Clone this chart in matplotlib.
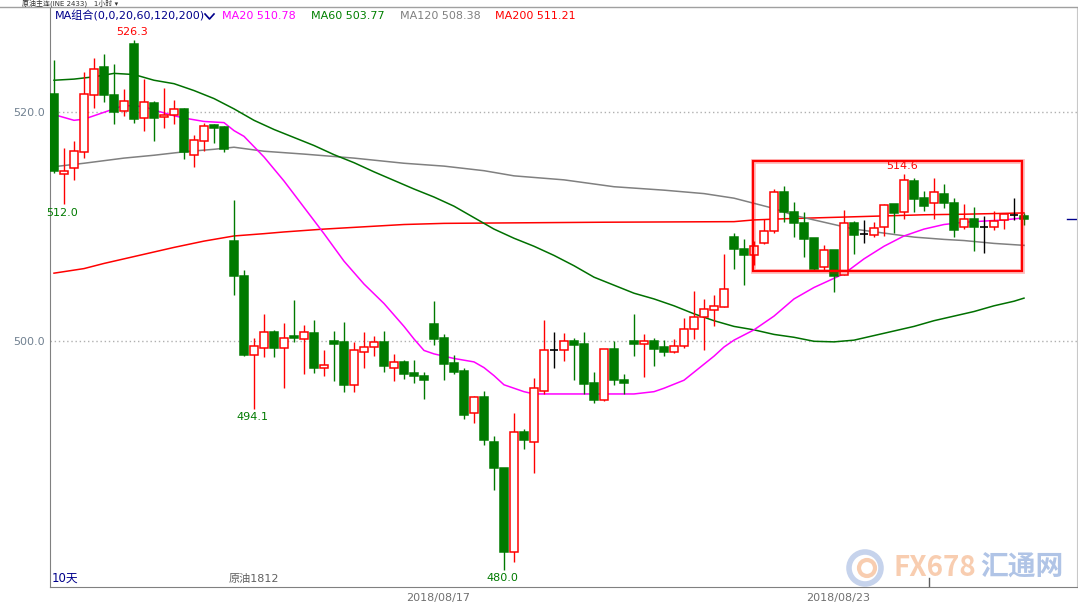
import numpy as np
import matplotlib; matplotlib.use("Agg")
import matplotlib.pyplot as plt
from matplotlib.patches import Rectangle, Ellipse
from matplotlib.lines import Line2D

plt.rcParams['font.family'] = ['DejaVu Sans', 'Noto Sans CJK SC']

# ---- hourly candles -------------------------------------------------------
opens  = [521.6,514.6,515.1,516.5,521.5,524.0,521.5,520.1,526.0,519.5,
          520.8,519.6,519.8,520.3,516.3,517.5,518.9,518.7,508.8,505.7,
          498.8,499.4,500.8,499.4,500.5,500.2,500.7,497.7,500.0,499.9,
          496.2,499.1,499.5,499.9,497.7,498.2,497.2,497.0,501.5,500.3,
          498.1,497.4,493.7,495.1,491.2,488.9,481.6,492.1,491.2,495.7,
          499.2,499.2,500.0,499.8,496.4,494.9,499.3,496.6,500.0,499.8,
          500.0,499.5,499.1,499.6,501.1,502.1,502.7,503.0,509.1,508.1,
          507.5,508.6,509.6,513.0,511.3,510.3,509.0,506.5,508.0,505.8,
          510.3,509.4,509.3,510.0,512.0,511.3,514.0,512.5,512.1,512.9,
          512.1,510.0,510.7,510.0,510.0,510.6,511.0,510.9]
highs  = [524.6,516.9,517.5,523.5,524.7,525.1,524.2,522.0,526.3,522.9,
          521.0,522.1,521.1,520.4,518.0,519.1,519.0,518.8,512.3,506.2,
          500.3,502.4,501.0,501.6,503.6,501.4,501.9,499.2,500.9,501.7,
          499.9,500.8,500.5,500.9,498.9,498.4,498.4,497.3,503.5,500.6,
          498.8,497.7,495.2,495.7,491.7,488.9,493.7,492.3,496.8,501.9,
          500.8,500.7,500.3,500.8,497.3,499.3,500.0,497.1,502.4,500.6,
          500.3,500.1,500.2,502.0,504.4,503.7,504.0,507.6,509.5,508.9,
          508.8,510.7,513.3,513.6,512.2,511.3,509.0,508.4,508.0,511.5,
          510.5,510.6,510.4,512.0,512.0,514.6,514.3,513.1,514.3,513.7,
          512.5,512.0,511.7,510.9,511.4,511.2,512.5,511.2]
lows   = [514.7,512.0,514.1,516.0,520.4,520.9,519.0,519.7,519.1,518.4,
          517.5,518.6,519.0,515.9,515.2,516.6,517.3,516.5,504.0,498.7,
          494.1,498.6,498.6,495.9,499.9,497.1,497.2,497.0,496.5,495.6,
          495.6,497.7,498.7,497.3,496.5,496.7,496.4,495.0,499.7,496.6,
          497.1,493.2,492.9,490.9,487.0,480.0,480.7,490.6,488.5,495.4,
          497.7,498.3,496.6,495.4,494.6,494.8,496.2,495.4,498.7,496.9,
          497.8,498.7,499.0,499.4,500.2,499.2,501.3,503.0,506.3,504.9,
          506.7,508.5,509.5,510.4,509.1,507.4,506.2,506.2,504.3,505.8,
          507.6,508.6,509.1,509.2,509.5,510.7,511.3,511.4,510.7,511.6,
          509.1,509.8,507.9,507.7,509.7,509.8,510.6,510.2]
closes = [514.9,514.9,516.6,521.6,523.8,521.5,520.0,521.0,519.4,520.9,
          519.5,519.8,520.3,516.5,517.6,518.8,518.6,516.8,505.7,498.8,
          499.6,500.8,499.4,500.3,500.3,500.8,497.7,497.9,499.8,496.2,
          499.2,499.5,499.9,497.8,498.2,497.1,497.0,496.6,500.2,498.0,
          497.3,493.6,495.1,491.4,488.9,481.6,492.1,491.4,495.9,499.2,
          499.2,500.0,499.7,496.3,494.9,499.3,496.6,496.4,499.8,500.0,
          499.3,499.1,499.6,501.1,502.1,502.8,503.1,504.6,508.1,507.5,
          508.3,509.6,513.0,511.3,510.3,508.9,506.3,508.0,505.7,510.3,
          509.3,509.4,509.9,511.9,511.2,514.1,512.4,511.8,513.0,512.1,
          509.7,510.7,510.0,510.0,510.5,511.1,511.0,510.7]

# ---- moving averages, sampled along the chart (bar index, price) -----------
ma20_idx = [0,2,3,5,7,9,10,12,13,15,17,18,19,20,21,23,25,27,29,31,33,35,36,37,38,
            40,42,43,44,45,47,48,53,58,60,61,63,64,65,66,67,68,70,72,74,76,78,79,
            81,83,85,87,89,91,93,95,97]
ma20_val = [519.8,519.3,519.4,520.0,520.6,520.5,520.2,519.7,519.5,519.2,519.1,518.4,
            517.9,517.0,516.1,514.0,511.7,509.4,507.0,505.0,503.3,501.3,500.2,499.2,
            498.9,498.5,498.2,497.7,497.0,496.2,495.6,495.4,495.4,495.4,495.6,495.9,
            496.6,497.3,498.0,498.7,499.5,500.1,501.0,502.2,503.7,504.7,505.5,505.9,
            507.2,508.3,509.2,509.8,510.2,510.4,510.5,510.6,510.78]
ma60_idx = [0,2,4,6,8,10,12,14,16,18,20,22,24,26,28,30,32,34,36,38,40,42,44,46,48,
            50,52,54,56,58,60,62,64,66,68,70,72,74,76,78,80,82,84,86,88,90,92,94,96,97]
ma60_val = [522.8,522.9,523.1,523.4,523.3,522.8,522.5,521.9,521.2,520.3,519.3,518.5,
            517.8,517.1,516.3,515.6,514.8,514.05,513.3,512.6,511.8,510.8,509.8,509.0,
            508.3,507.5,506.6,505.6,504.9,504.2,503.7,503.1,502.4,501.8,501.3,501.0,
            500.6,500.35,500.0,499.95,500.1,500.5,500.9,501.3,501.8,502.2,502.6,503.1,
            503.5,503.77]
ma120_idx = [0,3,7,10,13,16,18,21,25,30,35,39,43,46,51,56,61,65,68,70,72,74,77,80,
             83,86,89,91,94,97]
ma120_val = [515.25,515.55,516.0,516.25,516.55,516.77,516.95,516.6,516.35,516.0,515.55,
             515.3,514.9,514.45,514.1,513.5,513.2,512.9,512.5,512.05,511.6,511.0,510.4,
             509.8,509.45,509.1,508.9,508.8,508.55,508.38]
ma200_idx = [0,3,5,9,12,15,18,21,23,27,31,35,39,55,68,70,73,77,83,87,91,97]
ma200_val = [505.95,506.35,506.8,507.6,508.2,508.75,509.2,509.4,509.55,509.8,510.0,
             510.2,510.3,510.4,510.45,510.6,510.7,510.8,510.95,511.05,511.1,511.21]

W, H = 1078, 603
RED, GREEN, BLUE = "#ff0000", "#007a00", "#00008b"

fig = plt.figure(figsize=(W/100, H/100), dpi=100)
ax = fig.add_axes([50/W, (H-587)/H, 1027/W, 579/H])
ax.set_xlim(-0.4, 102.3)
ax.set_ylim(478.54, 529.11)

ax.spines["top"].set_visible(False)
for s in ("left", "bottom"): ax.spines[s].set_color("#808080")
ax.spines["right"].set_color("#c8c8c8")

for lvl in (500, 520):
    ax.axhline(lvl, color="#b0b0b0", lw=1, ls=(0, (1, 2)), zorder=0)
ax.set_yticks([500, 520], ["500.0", "520.0"])
ax.tick_params(axis="y", length=0, labelsize=8, labelcolor="#708090", pad=4)
ax.set_xticks([38.4, 78.4], ["2018/08/17", "2018/08/23"])
ax.tick_params(axis="x", length=0, labelsize=8, labelcolor="#707070", pad=4)
ax.axvline(87.5, ymin=0, ymax=0.016, color="#606060", lw=1)

# moving averages
ax.plot(ma200_idx, ma200_val, color=RED, lw=1.1, zorder=1)
ax.plot(ma120_idx, ma120_val, color="#808080", lw=1.1, zorder=1)
ax.plot(ma60_idx, ma60_val, color="#007000", lw=1.1, zorder=1)
ax.plot(ma20_idx, ma20_val, color="#ff00ff", lw=1.1, zorder=1)

# candles
bw = 0.8
for i, (o, h, l, c) in enumerate(zip(opens, highs, lows, closes)):
    if c > o:
        ax.vlines(i, l, h, color=RED, lw=1, zorder=2)
        ax.add_patch(Rectangle((i-bw/2, o), bw, c-o, facecolor="white",
                               edgecolor=RED, lw=1.1, zorder=3))
    elif c < o:
        ax.vlines(i, l, h, color=GREEN, lw=1, zorder=2)
        ax.add_patch(Rectangle((i-bw/2, c), bw, o-c, facecolor=GREEN,
                               edgecolor=GREEN, lw=1.1, zorder=3))
    else:
        ax.vlines(i, l, h, color="black", lw=1, zorder=2)
        ax.hlines(o, i-bw/2, i+bw/2, color="black", lw=1.2, zorder=3)

# high / low markers
for i, lab, col, dy in [(8, highs[8], RED, 8), (85, highs[85], RED, 8),
                        (1, lows[1], GREEN, -9), (20, lows[20], GREEN, -8),
                        (45, lows[45], GREEN, -8)]:
    ax.annotate(f"{lab:.1f}", (i, lab), xytext=(-2, dy), textcoords="offset pixels",
                ha="center", va="center", fontsize=8, color=col, zorder=5)

# highlighted consolidation box
bx0, bx1, by0, by1 = 69.93, 96.8, 506.14, 515.75
ax.add_patch(Rectangle((bx0, by0), bx1-bx0, by1-by0, fill=False,
                       edgecolor=RED, lw=3.5, alpha=0.25, zorder=6))
ax.add_patch(Rectangle((bx0, by0), bx1-bx0, by1-by0, fill=False,
                       edgecolor=RED, lw=1.6, zorder=6))

# last price marker on the right edge
ax.plot([0.99, 1.0], [closes[-1]]*2, color=BLUE, lw=1,
        transform=ax.get_yaxis_transform(), clip_on=False)

# ---- header and captions -------------------------------------------------
fy = lambda py: 1 - py/H
fig.add_artist(Line2D([0, 1], [fy(7), fy(7)], color="#a0a0a0", lw=1))
fig.text(22/W, fy(3.5), "原油主连(INE 2433)   1小时 ▾", fontsize=5, color="#333333",
         va="center", ha="left")
fig.text(55/W, fy(16), "MA组合(0,0,20,60,120,200)", fontsize=8, color=BLUE, va="center")
fig.add_artist(Line2D([205/W, 209.5/W, 214/W], [fy(14), fy(19), fy(14)], color=BLUE, lw=1.2))
for x0, txt, col in [(222, "MA20 510.78", "#ff00ff"), (311, "MA60 503.77", "#008000"),
                     (400, "MA120 508.38", "#808080"), (495, "MA200 511.21", RED)]:
    fig.text(x0/W, fy(16), txt, fontsize=8, color=col, va="center")

fig.text(52/W, fy(578), "10天", fontsize=8.5, color=BLUE, va="center")
fig.text(229/W, fy(579), "原油1812", fontsize=8, color="#606060", va="center")

# faint FX678 watermark
fig.add_artist(Ellipse((865/W, fy(568)), 32/W, 32/H, facecolor="none",
                       edgecolor="#b8c8e8", lw=4, alpha=0.8))
fig.add_artist(Ellipse((867/W, fy(568)), 16/W, 16/H, facecolor="none",
                       edgecolor="#f8c8a8", lw=3, alpha=0.9))
fig.text(893/W, fy(568), "FX678", fontsize=20, fontweight="bold", color="#f8cdb0",
         va="center", family=["Noto Sans CJK SC"])
fig.text(980/W, fy(568), "汇通网", fontsize=20, fontweight="bold", color="#b0c4e6",
         va="center", family=["Noto Sans CJK SC"])

fig.savefig("out.png", dpi=100)
